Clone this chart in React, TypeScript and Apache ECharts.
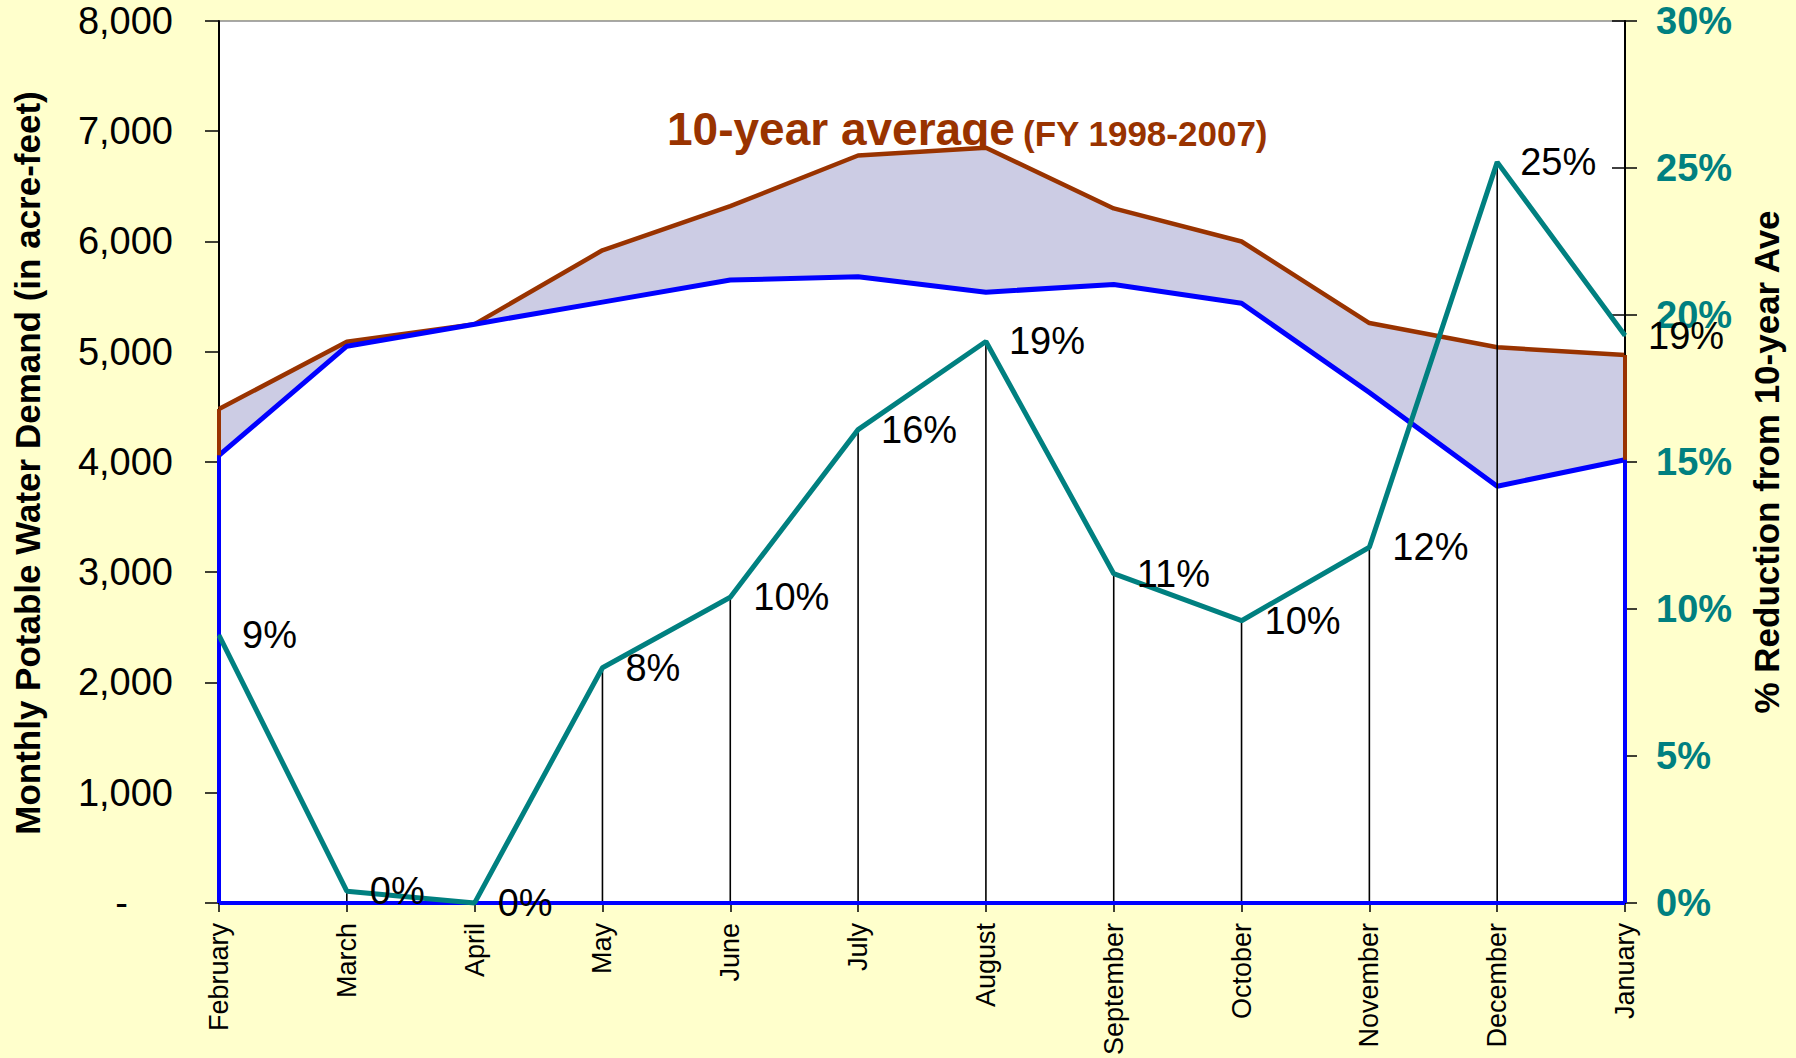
import React, { useEffect, useRef } from "react";
import * as echarts from "echarts";

const months = ["February", "March", "April", "May", "June", "July", "August", "September", "October", "November", "December", "January"];
const tenYearAvg = [4480, 5090, 5250, 5920, 6320, 6780, 6850, 6300, 6000, 5260, 5040, 4970];
const last12Months = [4060, 5050, 5250, 5450, 5650, 5680, 5540, 5610, 5440, 4630, 3780, 4020];
const savingsPct = [9.1, 0.4, 0, 8.0, 10.4, 16.1, 19.1, 11.2, 9.6, 12.1, 25.2, 19.3];

const FONT = "Arial, 'Liberation Sans', Helvetica, sans-serif";
const BROWN = "#993300";
const BLUE = "#0000FF";
const TEAL = "#008080";
const NAVY = "#333399";
const LAVENDER = "#CCCCE4";

export default function App() {
  const ref = useRef<HTMLDivElement>(null);
  useEffect(() => {
    if (!ref.current) return;
    const chart = echarts.init(ref.current, null, { renderer: "svg" });
    const n = months.length;
    const first = months[0];
    const last = months[n - 1];
    chart.setOption({
      animation: false,
      backgroundColor: "#FFFFCC",
      textStyle: { fontFamily: FONT },
      grid: {
        left: 219,
        right: 171,
        top: 21,
        bottom: 154,
        show: true,
        backgroundColor: "#FFFFFF",
        borderColor: "#8C8C8C",
        borderWidth: 1.5,
        containLabel: false,
      },
      xAxis: {
        type: "category",
        data: months,
        boundaryGap: false,
        axisLine: { lineStyle: { color: "#000", width: 2 } },
        axisTick: { show: true, length: 9, lineStyle: { color: "#000", width: 1.5 }, interval: 0 },
        axisLabel: { rotate: 90, interval: 0, fontSize: 27, color: "#000", margin: 20, fontFamily: FONT },
        splitLine: { show: false },
      },
      yAxis: [
        {
          type: "value",
          min: 0,
          max: 8000,
          interval: 1000,
          position: "left",
          axisLine: { show: true, lineStyle: { color: "#000", width: 2 } },
          axisTick: { show: true, length: 14, lineStyle: { color: "#000", width: 1.5 } },
          axisLabel: {
            fontSize: 38,
            color: "#000",
            margin: 46,
            fontFamily: FONT,
            formatter: (v: number) => (v === 0 ? "{d|-}" : v.toLocaleString("en-US")),
            rich: { d: { fontSize: 38, color: "#000", padding: [0, 45, 0, 0], fontFamily: FONT } },
          },
          splitLine: { show: false },
        },
        {
          type: "value",
          min: 0,
          max: 30,
          interval: 5,
          position: "right",
          axisLine: { show: true, lineStyle: { color: "#000", width: 2 } },
          axisTick: { show: true, length: 12, lineStyle: { color: "#000", width: 1.5 } },
          axisLabel: { fontSize: 38, fontWeight: "bold", color: TEAL, margin: 31, fontFamily: FONT, formatter: "{value}%" },
          splitLine: { show: false },
        },
        {
          type: "value",
          min: 0,
          max: 30,
          interval: 5,
          position: "right",
          axisLine: { show: false },
          axisTick: { show: true, inside: true, length: 13, lineStyle: { color: "#000", width: 1.5 } },
          axisLabel: { show: false },
          splitLine: { show: false },
        },
      ],
      series: [
        {
          name: "10-year average",
          type: "line",
          data: tenYearAvg,
          yAxisIndex: 0,
          symbol: "none",
          clip: false,
          z: 2,
          lineStyle: { color: BROWN, width: 4.5 },
          areaStyle: { color: LAVENDER, opacity: 1 },
          markLine: {
            silent: true,
            symbol: "none",
            label: { show: false },
            lineStyle: { color: BROWN, width: 4, type: "solid" },
            data: [
              [{ coord: [first, 0] }, { coord: [first, tenYearAvg[0]] }],
              [{ coord: [last, 0] }, { coord: [last, tenYearAvg[n - 1]] }],
            ],
          },
        },
        {
          name: "12 months ending Jan 2009",
          type: "line",
          data: last12Months,
          yAxisIndex: 0,
          symbol: "none",
          clip: false,
          z: 3,
          lineStyle: { color: BLUE, width: 5 },
          areaStyle: { color: "#FFFFFF", opacity: 1 },
          markLine: {
            silent: true,
            symbol: "none",
            label: { show: false },
            lineStyle: { color: BLUE, width: 4, type: "solid" },
            data: [
              [{ coord: [first, 0] }, { coord: [last, 0] }],
              [{ coord: [first, 0] }, { coord: [first, last12Months[0]] }],
              [{ coord: [last, 0] }, { coord: [last, last12Months[n - 1]] }],
            ],
          },
        },
        {
          name: "drop lines",
          type: "bar",
          data: savingsPct,
          yAxisIndex: 1,
          barWidth: 1.6,
          silent: true,
          z: 4,
          itemStyle: { color: "#000" },
        },
        {
          name: "% Savings",
          type: "line",
          data: savingsPct,
          yAxisIndex: 1,
          symbol: "circle",
          symbolSize: 2,
          showSymbol: true,
          clip: false,
          z: 5,
          itemStyle: { color: TEAL },
          lineStyle: { color: TEAL, width: 5 },
          label: {
            show: true,
            position: "right",
            distance: 22,
            fontSize: 38,
            color: "#000",
            fontFamily: FONT,
            formatter: (p: any) => Math.round(p.value) + "%",
          },
        },
      ],
      graphic: [
        {
          type: "text",
          x: 27,
          y: 463,
          rotation: Math.PI / 2,
          style: {
            text: "Monthly Potable Water Demand (in acre-feet)",
            font: `bold 35px ${FONT}`,
            fill: "#000",
            align: "center",
            verticalAlign: "middle",
          },
        },
        {
          type: "text",
          x: 1766,
          y: 462,
          rotation: Math.PI / 2,
          style: {
            text: "% Reduction from 10-year Ave",
            font: `bold 35px ${FONT}`,
            fill: "#000",
            align: "center",
            verticalAlign: "middle",
          },
        },
        {
          type: "text",
          x: 667,
          y: 129,
          style: { text: "10-year average", font: `bold 46px ${FONT}`, fill: BROWN, align: "left", verticalAlign: "middle" },
        },
        {
          type: "text",
          x: 1023,
          y: 133,
          style: { text: "(FY 1998-2007)", font: `bold 35px ${FONT}`, fill: BROWN, align: "left", verticalAlign: "middle" },
        },
        {
          type: "text",
          x: 543,
          y: 339,
          style: { text: "12 months ending", font: `bold 44px ${FONT}`, fill: NAVY, align: "left", verticalAlign: "middle" },
        },
        {
          type: "text",
          x: 543,
          y: 396,
          style: { text: "Jan 2009", font: `bold 44px ${FONT}`, fill: NAVY, align: "left", verticalAlign: "middle" },
        },
        {
          type: "text",
          x: 449,
          y: 572,
          style: { text: "% Savings", font: `bold 44px ${FONT}`, fill: TEAL, align: "left", verticalAlign: "middle" },
        },
      ],
    });
    return () => chart.dispose();
  }, []);
  return <div ref={ref} style={{ position: "fixed", left: 0, top: 0, width: 1796, height: 1058 }} />;
}
